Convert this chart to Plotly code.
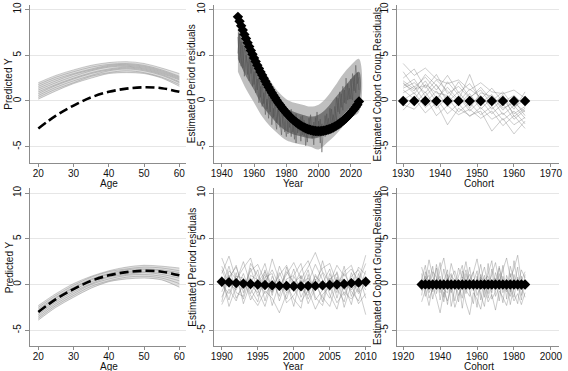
import plotly.graph_objects as go

W, H = 568, 371

# ---------------- data ----------------
ages = [20, 25, 30, 35, 40, 45, 50, 55, 60]
true_age_top = [-3.0, -1.6, -0.5, 0.4, 1.0, 1.35, 1.5, 1.4, 1.0]
pred_age_top = [
    [2.0, 2.8, 3.4, 3.9, 4.2, 4.3, 4.1, 3.6, 3.0],
    [1.8, 2.6, 3.2, 3.7, 4.0, 4.1, 3.9, 3.4, 2.7],
    [1.6, 2.4, 3.0, 3.5, 3.9, 4.0, 3.8, 3.3, 2.6],
    [1.4, 2.2, 2.9, 3.4, 3.8, 3.9, 3.7, 3.2, 2.5],
    [1.2, 2.0, 2.7, 3.3, 3.7, 3.8, 3.6, 3.1, 2.4],
    [1.0, 1.8, 2.5, 3.1, 3.5, 3.7, 3.5, 3.0, 2.3],
    [0.8, 1.7, 2.4, 3.0, 3.4, 3.6, 3.4, 2.9, 2.1],
    [0.6, 1.5, 2.2, 2.8, 3.3, 3.5, 3.3, 2.8, 2.0],
    [0.4, 1.3, 2.0, 2.7, 3.1, 3.3, 3.1, 2.6, 1.8],
    [0.2, 1.1, 1.9, 2.5, 3.0, 3.1, 3.0, 2.5, 1.6],
]
true_age_bot = [-3.0, -1.6, -0.5, 0.4, 1.0, 1.35, 1.5, 1.4, 1.0]
pred_age_bot = [
    [-2.3, -1.0, 0.1, 0.9, 1.5, 1.9, 2.1, 2.0, 1.8],
    [-2.5, -1.2, -0.1, 0.8, 1.4, 1.7, 1.9, 1.8, 1.5],
    [-2.7, -1.4, -0.3, 0.6, 1.2, 1.6, 1.7, 1.6, 1.3],
    [-2.9, -1.5, -0.4, 0.5, 1.1, 1.4, 1.6, 1.5, 1.1],
    [-3.1, -1.7, -0.6, 0.3, 0.9, 1.3, 1.4, 1.3, 0.9],
    [-3.3, -1.9, -0.8, 0.1, 0.8, 1.1, 1.3, 1.1, 0.7],
    [-3.5, -2.1, -1.0, 0.0, 0.6, 1.0, 1.1, 0.9, 0.4],
    [-3.7, -2.3, -1.2, -0.2, 0.4, 0.8, 0.9, 0.7, 0.1],
    [-3.9, -2.5, -1.4, -0.4, 0.3, 0.6, 0.7, 0.5, -0.3],
]

years_top = list(range(1950, 2026))
period_true_top = [
    9.20, 8.71, 8.22, 7.75, 7.28, 6.83, 6.38, 5.95, 5.52, 5.11,
    4.70, 4.31, 3.92, 3.55, 3.18, 2.83, 2.48, 2.15, 1.82, 1.51,
    1.20, 0.91, 0.62, 0.35, 0.08, -0.18, -0.42, -0.66, -0.88, -1.10,
    -1.30, -1.50, -1.68, -1.86, -2.02, -2.18, -2.32, -2.46, -2.58, -2.70,
    -2.80, -2.90, -2.98, -3.06, -3.12, -3.18, -3.22, -3.26, -3.28, -3.30,
    -3.30, -3.30, -3.28, -3.26, -3.22, -3.18, -3.12, -3.06, -2.98, -2.90,
    -2.80, -2.70, -2.58, -2.46, -2.32, -2.18, -2.02, -1.86, -1.68, -1.50,
    -1.30, -1.10, -0.88, -0.66, -0.42, -0.05,
]
years5 = [1950, 1955, 1960, 1965, 1970, 1975, 1980, 1985, 1990, 1995,
          2000, 2005, 2010, 2015, 2020, 2025]
period_outer_hi = [8.3, 7.0, 5.2, 3.6, 2.2, 1.0, 0.2, -0.2, -0.4, -0.6, -0.4, 0.4, 1.6, 2.9, 3.9, 4.6]
period_outer_lo = [3.2, 1.3, -0.2, -1.7, -2.8, -3.6, -4.3, -4.6, -4.8, -5.0, -5.3, -4.6, -3.8, -2.8, -1.8, -1.2]
period_inner_hi = [7.6, 5.9, 4.3, 2.7, 1.3, 0.1, -0.8, -1.2, -1.5, -1.7, -1.5, -0.8, 0.3, 1.3, 2.4, 3.2]
period_inner_lo = [4.6, 2.7, 1.2, -0.5, -1.6, -2.6, -3.3, -3.7, -3.9, -4.1, -4.0, -3.4, -2.6, -1.6, -0.6, 0.1]
period_est_a = [
    7.0, 4.2, 6.5, 3.6, 5.8, 5.2, 2.9, 4.8, 3.0, 3.9,
    1.8, 3.5, 1.2, 2.6, 0.4, 2.0, -0.3, 1.1, -0.9, 0.8,
    -1.2, 0.6, -1.8, -0.2, -2.4, -0.5, -2.9, -1.0, -2.3, -3.4,
    -1.1, -3.6, -1.5, -3.9, -2.0, -4.2, -1.4, -3.5, -2.2, -4.4,
    -1.6, -3.8, -2.4, -4.5, -1.9, -3.6, -2.7, -4.8, -1.8, -3.9,
    -2.2, -4.6, -2.5, -3.7, -1.6, -3.2, -1.9, -3.0, -0.9, -2.6,
    -0.6, -2.1, 0.3, -1.4, 0.8, -1.0, 1.2, -0.3, 1.9, 0.2,
    2.4, 0.1, 2.8, 0.9, 3.1, 1.2,
]
period_est_b = [
    5.2, 7.4, 3.8, 6.1, 2.7, 5.0, 4.1, 2.2, 4.4, 1.6,
    3.2, 0.9, 2.4, -0.2, 1.6, -0.6, 0.9, -1.5, 0.2, -1.9,
    0.4, -2.6, -0.8, -1.9, -3.1, -0.4, -2.2, -3.7, -1.3, -2.8,
    -3.9, -1.6, -2.9, -0.9, -3.4, -2.3, -4.6, -2.0, -3.3, -1.7,
    -3.7, -2.1, -4.9, -2.6, -3.3, -1.5, -4.1, -2.3, -3.6, -1.2,
    -3.5, -2.0, -5.6, -2.8, -3.9, -1.4, -3.3, -0.8, -2.6, -1.5,
    -2.3, 0.4, -1.2, 1.0, -0.7, 1.6, -0.2, 2.5, 0.1, 1.4,
    0.2, 3.0, 1.1, 3.9, 1.9, 2.6,
]

cohorts_top = [1930, 1933, 1936, 1939, 1942, 1945, 1948, 1951, 1954, 1957, 1960, 1963]
cohort_true_top = [0] * 12
cohort_est_top = [
    [4.1, 2.8, 3.6, 2.4, 1.9, 2.3, 1.2, 2.0, 1.0, 0.8, 1.2, 0.3],
    [3.2, 1.5, 2.6, 1.2, 2.8, 0.9, 1.9, 0.2, 1.4, -0.1, 0.6, -0.5],
    [2.5, 3.5, 1.4, 2.9, 0.8, 1.6, 0.3, 1.5, 0.0, 1.0, -0.6, 0.1],
    [2.0, 0.8, 2.2, 0.3, 1.5, 0.1, 2.9, -0.2, 0.7, -0.8, -0.2, -1.2],
    [1.6, 2.4, 0.5, 1.8, -0.1, 1.0, -0.5, 0.6, -0.9, 0.2, -1.4, -0.6],
    [1.2, 0.2, 1.8, 0.9, 0.6, -0.4, 0.8, -0.9, 0.3, -1.5, -0.5, -1.9],
    [0.9, 1.6, -0.2, 1.1, -0.6, 0.5, -1.1, 0.1, -1.4, -0.3, -2.0, -1.0],
    [0.5, -0.4, 1.0, -0.8, 0.4, -1.2, -0.2, -1.5, -0.6, -2.1, -1.1, -2.5],
    [0.1, 0.9, -0.7, 0.3, -1.4, -0.3, -1.7, -0.7, -2.0, -1.3, -2.6, -1.8],
    [-0.4, -0.9, 0.4, -1.6, -0.5, -1.5, -0.9, -1.9, -1.1, -2.7, -1.6, -3.0],
    [-1.0, 0.3, -1.3, -0.2, -2.6, -0.8, -1.6, -1.1, -3.3, -1.9, -3.6, -2.2],
    [1.9, 1.1, 2.9, 1.7, 0.2, 2.1, 0.4, 1.2, -0.4, 0.5, -0.9, 1.0],
    [1.4, 2.0, 0.9, 2.3, 1.1, -0.1, 1.3, 0.4, -0.5, 0.7, -1.7, -0.8],
    [2.2, 1.3, 1.7, -0.1, 2.1, 0.6, -0.8, 0.9, 0.5, -1.0, 0.1, -1.6],
]

years_bot = list(range(1990, 2011))
period_true_bot = [0.3, 0.25, 0.15, 0.1, 0.05, 0.0, -0.05, -0.1, -0.15, -0.15, -0.2,
                   -0.2, -0.15, -0.15, -0.1, -0.05, 0.0, 0.05, 0.15, 0.2, 0.3]
period_est_bot = [
    [2.9, 0.8, 1.9, -0.4, 1.5, 2.2, 0.3, 1.6, -0.2, 1.1, 2.4, 0.6, 1.9, 3.5, 1.4, 0.2, 2.1, 0.9, 1.7, 0.4, 3.2],
    [-2.2, -0.5, -1.8, 0.4, -1.2, -2.3, -0.7, -1.5, -3.1, -1.0, -0.3, -1.9, -0.6, -2.7, -1.1, -0.2, -2.0, -0.8, -1.6, -0.4, -3.3],
    [1.2, 3.1, 0.5, 1.8, 2.9, 0.2, 1.4, -0.3, 1.0, 2.1, -0.1, 1.5, 2.6, 0.4, 1.8, 2.3, 0.1, 1.2, -0.2, 1.9, 1.1],
    [-0.8, 1.0, -1.5, -0.1, 0.7, -1.3, 0.3, -0.9, 0.6, -1.6, 0.9, -0.5, -1.2, 1.1, -0.3, -1.5, 0.8, -0.6, 0.5, -1.0, 0.2],
    [0.5, -1.7, 1.3, -2.1, 0.2, 1.6, -1.8, 0.9, -0.7, 0.3, -2.4, 1.0, -0.4, 0.6, -1.9, 1.2, -0.9, 2.0, -1.3, 0.7, -0.6],
    [2.0, 0.1, -0.6, 1.2, -1.0, 0.4, 2.3, -0.8, 1.3, -0.5, 1.7, -1.4, 0.2, 2.2, 0.5, -0.7, 1.4, -1.2, 0.9, 1.6, -0.3],
    [-1.4, 0.6, 2.1, -0.9, 1.8, -0.6, -2.4, 0.4, -1.3, 1.9, -0.8, 0.5, -2.1, -0.3, 1.3, -1.1, -2.7, 0.3, -0.7, -1.8, 0.9],
    [0.0, -1.0, 0.9, 0.7, -1.7, -0.2, 1.1, -2.3, 0.2, -0.9, 0.4, -0.3, 1.6, -1.4, -2.3, 0.7, -0.4, -1.9, 1.3, -0.8, 1.5],
    [1.6, -0.3, 0.3, 2.5, 0.0, -0.9, 0.8, 1.2, -1.8, 0.6, 1.0, 2.3, -0.9, 0.9, 0.1, 1.7, -1.5, 1.4, 2.1, -0.2, 0.4],
    [-0.3, 2.0, -0.9, -1.3, 2.3, 1.0, -0.4, 2.8, 0.5, -2.0, -1.2, 0.1, 0.7, -0.6, 2.6, -0.2, 0.5, -0.1, -2.2, 1.2, -1.5],
    [0.9, -2.4, -0.2, 0.2, -0.5, -1.9, 1.6, -1.2, 2.0, 0.0, -1.6, -2.6, 1.1, -1.7, -0.6, 0.6, 1.2, -2.5, 0.0, -2.1, -1.0],
    [-1.9, 1.5, 0.6, -1.6, 1.0, 0.5, -1.0, 0.0, -0.4, 1.4, 0.2, 0.9, -1.6, 0.0, -1.4, -2.4, 0.3, 0.6, -0.6, 0.3, 2.3],
]

cohorts_bot = list(range(1930, 1987, 2))
cohort_true_bot = [0] * len(cohorts_bot)
cohort_est_bot = [
    [1.9, 0.4, 2.7, 0.9, -0.3, 1.6, 2.9, 0.5, 1.2, -0.4, 1.8, 0.7, 2.5, 0.1, 1.3, 2.8, 0.6, 1.9, -0.2, 1.1, 2.4, 0.3, 1.5, 2.9, 0.8, 1.7, 3.2, 0.4, 1.4],
    [-1.9, -0.6, -2.3, -0.2, -1.5, -3.1, -0.8, -1.8, -0.4, -2.5, -1.2, -0.3, -2.0, -3.3, -0.9, -1.6, -2.7, -0.5, -1.9, -1.1, -2.8, -0.7, -1.4, -2.3, -0.6, -1.8, -1.0, -2.2, -0.9],
    [0.6, 2.1, -0.5, 1.4, 0.8, -0.9, 1.7, -0.2, 2.3, 0.9, -0.6, 1.5, -0.1, 1.9, -0.7, 0.4, 2.2, -0.3, 1.2, 2.6, -0.4, 1.8, 0.3, -0.8, 2.0, 0.5, -0.2, 1.6, 0.7],
    [-0.7, 0.5, 1.0, -1.6, 0.3, 0.9, -1.4, 1.1, -0.9, 0.2, -1.9, 0.8, -1.0, 0.5, 1.4, -1.2, -0.1, 1.0, -1.5, 0.3, 0.7, -1.8, 0.9, -0.5, -1.3, 1.1, -0.7, -0.1, -1.4],
    [1.2, -1.3, 0.2, 2.0, -1.0, 0.6, -0.1, -2.2, 0.7, 1.5, 0.0, -1.5, 1.2, -0.8, -2.1, 0.9, -1.1, -2.4, 0.5, -0.9, 1.3, 0.0, -2.0, 1.0, -0.2, -1.4, 0.8, -0.6, 0.3],
    [-1.2, 1.4, -0.9, 0.1, 1.8, -1.7, 0.4, 1.6, -2.4, -0.5, 0.9, 2.1, -0.6, -1.3, 0.6, -0.4, 1.1, -1.4, 2.3, -1.6, -0.8, 1.2, -0.9, 0.3, -2.2, 0.0, 1.9, -1.2, 0.5],
    [0.3, -0.2, 1.6, -0.8, 2.2, 0.0, -1.9, 0.7, 0.1, -1.8, 0.5, -2.6, 0.3, 1.1, -0.3, -2.5, 0.8, 0.2, -1.0, 1.7, -1.3, -0.3, 2.1, -1.6, 1.2, -0.9, -2.1, 0.9, -0.5],
    [-0.1, 0.9, -1.5, -0.4, 0.6, 2.4, -0.6, -0.9, 1.0, 0.4, -1.2, 0.2, 1.6, -0.2, 0.2, 1.5, -1.7, 0.6, 0.9, -0.3, 0.1, 2.0, -0.5, 0.6, -0.8, 2.6, 0.2, -1.7, 1.1],
]

y_ticks = [-5, 0, 5, 10]
y_ticklabels = ["-5", "0", "5", "10"]
age_ticks = [20, 30, 40, 50, 60]
year_ticks_top = [1940, 1960, 1980, 2000, 2020]
cohort_ticks_top = [1930, 1940, 1950, 1960, 1970]
year_ticks_bot = [1990, 1995, 2000, 2005, 2010]
cohort_ticks_bot = [1920, 1940, 1960, 1980, 2000]

x_titles = ["Age", "Year", "Cohort", "Age", "Year", "Cohort"]
y_titles = ["Predicted Y", "Estimated Period residuals", "Estimated Cohort Group Residuals",
            "Predicted Y", "Estimated Period residuals", "Estimated Cohort Group Residuals"]

# ---------------- layout geometry (pixels) ----------------
col_px = [(25, 185), (213, 373), (400, 565)]
row_px = [(2, 161), (187, 346)]
x_ranges = [[17.5, 62], [1935.1, 2032.3], [1928.4, 1972.2],
            [17.5, 62], [1988.9, 2010.7], [1916.8, 2004.4]]
x_tickvals = [age_ticks, year_ticks_top, cohort_ticks_top, age_ticks, year_ticks_bot, cohort_ticks_bot]
ytitle_x = [4, 191, 380]

FONT = "Liberation Sans, Arial, sans-serif"
TXT = "#111111"
AX = "#8c8c8c"
GRID = "#e6e6e6"
LINE_GRAY = "rgba(110,110,110,0.35)"
NOISE_GRAY = "rgba(120,120,120,0.38)"

fig = go.Figure()

def ax_names(i):
    s = "" if i == 0 else str(i + 1)
    return "x" + s, "y" + s

# Panel 1: top age
xa, ya = ax_names(0)
fig.add_trace(go.Scatter(x=ages + ages[::-1], y=pred_age_top[0] + pred_age_top[-1][::-1],
                         fill="toself", fillcolor="rgba(200,200,200,0.55)", line=dict(width=0),
                         xaxis=xa, yaxis=ya, mode="lines"))
for c in pred_age_top:
    fig.add_trace(go.Scatter(x=ages, y=c, mode="lines", line=dict(color=LINE_GRAY, width=1, shape="spline"),
                             xaxis=xa, yaxis=ya))
fig.add_trace(go.Scatter(x=ages, y=true_age_top, mode="lines",
                         line=dict(color="black", width=2.6, dash="9px,4px", shape="spline"),
                         xaxis=xa, yaxis=ya))

# Panel 2: top period
xa, ya = ax_names(1)
fig.add_trace(go.Scatter(x=years5 + years5[::-1], y=period_outer_hi + period_outer_lo[::-1],
                         fill="toself", fillcolor="rgba(175,175,175,0.8)", line=dict(width=0, shape="spline"),
                         xaxis=xa, yaxis=ya, mode="lines"))
fig.add_trace(go.Scatter(x=years5 + years5[::-1], y=period_inner_hi + period_inner_lo[::-1],
                         fill="toself", fillcolor="rgba(105,105,105,0.85)", line=dict(width=0, shape="spline"),
                         xaxis=xa, yaxis=ya, mode="lines"))
for s in (period_est_a, period_est_b):
    fig.add_trace(go.Scatter(x=years_top, y=s, mode="lines", line=dict(color="rgba(80,80,80,0.6)", width=0.8),
                             xaxis=xa, yaxis=ya))
fig.add_trace(go.Scatter(x=years_top, y=period_true_top, mode="markers",
                         marker=dict(symbol="diamond", size=8, color="black"),
                         xaxis=xa, yaxis=ya))

# Panel 3: top cohort
xa, ya = ax_names(2)
for c in cohort_est_top:
    fig.add_trace(go.Scatter(x=cohorts_top, y=c, mode="lines", line=dict(color=NOISE_GRAY, width=1),
                             xaxis=xa, yaxis=ya))
fig.add_trace(go.Scatter(x=cohorts_top, y=cohort_true_top, mode="markers",
                         marker=dict(symbol="diamond", size=8, color="black"),
                         xaxis=xa, yaxis=ya))

# Panel 4: bottom age
xa, ya = ax_names(3)
fig.add_trace(go.Scatter(x=ages + ages[::-1], y=pred_age_bot[0] + pred_age_bot[-1][::-1],
                         fill="toself", fillcolor="rgba(200,200,200,0.55)", line=dict(width=0),
                         xaxis=xa, yaxis=ya, mode="lines"))
for c in pred_age_bot:
    fig.add_trace(go.Scatter(x=ages, y=c, mode="lines", line=dict(color=LINE_GRAY, width=1, shape="spline"),
                             xaxis=xa, yaxis=ya))
fig.add_trace(go.Scatter(x=ages, y=true_age_bot, mode="lines",
                         line=dict(color="black", width=2.6, dash="9px,4px", shape="spline"),
                         xaxis=xa, yaxis=ya))

# Panel 5: bottom period
xa, ya = ax_names(4)
for c in period_est_bot:
    fig.add_trace(go.Scatter(x=years_bot, y=c, mode="lines", line=dict(color=NOISE_GRAY, width=1),
                             xaxis=xa, yaxis=ya))
fig.add_trace(go.Scatter(x=years_bot, y=period_true_bot, mode="markers",
                         marker=dict(symbol="diamond", size=8, color="black"),
                         xaxis=xa, yaxis=ya))

# Panel 6: bottom cohort
xa, ya = ax_names(5)
for c in cohort_est_bot:
    fig.add_trace(go.Scatter(x=cohorts_bot, y=c, mode="lines", line=dict(color=NOISE_GRAY, width=1),
                             xaxis=xa, yaxis=ya))
fig.add_trace(go.Scatter(x=cohorts_bot, y=cohort_true_bot, mode="markers",
                         marker=dict(symbol="diamond", size=8, color="black"),
                         xaxis=xa, yaxis=ya))

layout = dict(
    width=W, height=H, margin=dict(l=0, r=0, t=0, b=0),
    paper_bgcolor="white", plot_bgcolor="white", showlegend=False,
    font=dict(family=FONT, size=10, color=TXT), hovermode=False,
)
annotations = []
for i in range(6):
    r, c = divmod(i, 3)
    x0, x1 = col_px[c]
    y0, y1 = row_px[r]
    s = "" if i == 0 else str(i + 1)
    layout["xaxis" + s] = dict(
        domain=[x0 / W, x1 / W], range=x_ranges[i], anchor="y" + s,
        tickvals=x_tickvals[i], ticktext=[str(v) for v in x_tickvals[i]],
        showgrid=False, zeroline=False, showline=True, linecolor=AX, linewidth=1,
        ticks="outside", ticklen=3, tickcolor=AX, tickfont=dict(size=10, color=TXT),
        ticklabelstandoff=-2,
    )
    layout["yaxis" + s] = dict(
        domain=[1 - y1 / H, 1 - y0 / H], range=[-6.75, 10.5], anchor="x" + s,
        tickvals=y_ticks, ticktext=y_ticklabels, tickangle=-90,
        showgrid=True, gridcolor=GRID, gridwidth=1, zeroline=False,
        showline=True, linecolor=AX, linewidth=1,
        ticks="outside", ticklen=4, tickcolor=AX, tickfont=dict(size=10, color=TXT),
    )
    annotations.append(dict(text=x_titles[i], xref="paper", yref="paper",
                            x=((x0 + x1) / 2 + 1) / W, y=1 - (y1 + 20.5) / H,
                            xanchor="center", yanchor="middle", showarrow=False,
                            font=dict(size=10, color=TXT)))
    annotations.append(dict(text=y_titles[i], xref="paper", yref="paper",
                            x=ytitle_x[c] / W, y=1 - ((y0 + y1) / 2) / H, textangle=-90,
                            xanchor="center", yanchor="middle", showarrow=False,
                            font=dict(size=10, color=TXT)))
layout["annotations"] = annotations
fig.update_layout(**layout)

fig.write_html("out.html", config={"displayModeBar": False, "staticPlot": True},
               post_script="document.body.style.margin='0';document.body.style.overflow='hidden';")
